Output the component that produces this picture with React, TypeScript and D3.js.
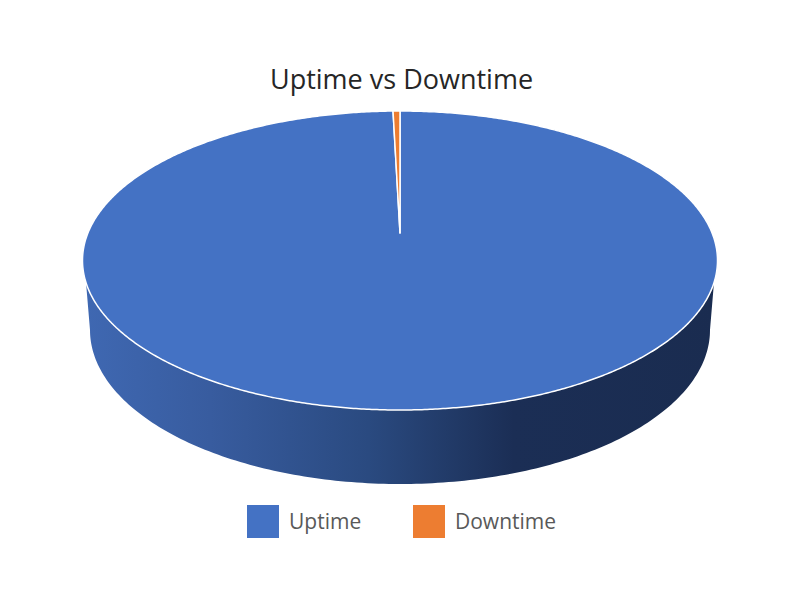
import React from "react";
import * as d3 from "d3";

const categories = ["Uptime", "Downtime"];
const values = [99.65, 0.35];
const colors = ["#4472C4", "#ED7D31"];
const titleText = "Uptime vs Downtime";

const W = 800, H = 600;
const cx = 400, cy = 260.5, rx = 317.5, ry = 149.5;
const apexY = 233;
const wallCy = 330, wallRx = 310, wallRy = 154;

// Clockwise from 12 o'clock: the small slice closes the circle just left of the top.
const arcs = d3.pie<number>().sort(null).startAngle(0).endAngle(2 * Math.PI)(values);

const rim = (a: number): [number, number] => [cx + rx * Math.sin(a), cy - ry * Math.cos(a)];
const line = d3.line<[number, number]>();

function slicePath(a0: number, a1: number) {
  const n = Math.max(2, Math.ceil((a1 - a0) * 120));
  const sc = d3.scaleLinear().domain([0, n]).range([a0, a1]);
  const pts: [number, number][] = d3.range(n + 1).map((i) => rim(sc(i)));
  return line([[cx, apexY], ...pts]) + "Z";
}

function wallPath() {
  const lower = d3.scaleLinear().domain([0, 180]).range([-Math.PI / 2, Math.PI / 2]);
  const base: [number, number][] = d3.range(181).map((i) => {
    const t = lower(i);
    return [cx + wallRx * Math.sin(t), wallCy + wallRy * Math.cos(t)] as [number, number];
  });
  const upper = d3.scaleLinear().domain([0, 180]).range([1.72, 2 * Math.PI - 1.72]);
  const top: [number, number][] = d3.range(181).map((i) => rim(upper(i)));
  return line([...top, ...base]) + "Z";
}

export default function App() {
  const font = "'Open Sans', sans-serif";
  return (
    <svg
      width={W}
      height={H}
      viewBox={`0 0 ${W} ${H}`}
      style={{ position: "absolute", left: 0, top: 0, background: "#fff" }}
    >
      <defs>
        <linearGradient id="wall" gradientUnits="userSpaceOnUse" x1={84} x2={716} y1={0} y2={0}>
          <stop offset="0" stopColor="#3F68B2" />
          <stop offset="0.2" stopColor="#385C9F" />
          <stop offset="0.45" stopColor="#2A4A80" />
          <stop offset="0.68" stopColor="#1B2E55" />
          <stop offset="1" stopColor="#1A2C50" />
        </linearGradient>
      </defs>
      <text x={401.5} y={89} textAnchor="middle" fontFamily={font} fontSize={27} fill="#262626">
        {titleText}
      </text>
      <path d={wallPath()} fill="url(#wall)" />
      {arcs.map((a, i) => (
        <path
          key={categories[i]}
          d={slicePath(a.startAngle, a.endAngle)}
          fill={colors[i]}
          stroke="#fff"
          strokeWidth={1.5}
          strokeLinejoin="round"
        />
      ))}
      {categories.map((c, i) => (
        <g key={c} transform={`translate(${i === 0 ? 247 : 413},505)`}>
          <rect width={32} height={33} fill={colors[i]} />
          <text x={42} y={24} fontFamily={font} fontSize={21} fill="#595959">
            {c}
          </text>
        </g>
      ))}
    </svg>
  );
}
